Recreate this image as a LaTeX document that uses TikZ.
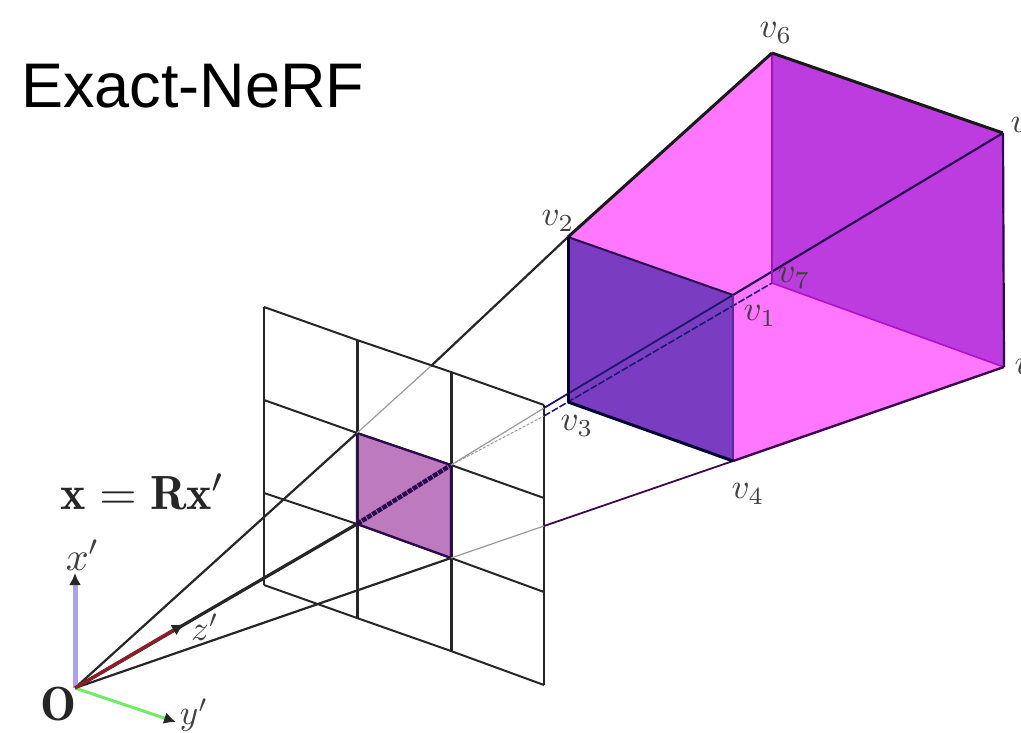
\documentclass[tikz,border=0pt]{standalone}
\usepackage{fontspec}
\setsansfont{Liberation Sans}
\usetikzlibrary{arrows.meta}
\definecolor{pinkface}{HTML}{FF77FF}
\definecolor{backface}{HTML}{BC3CE0}
\definecolor{frontface}{HTML}{7A3CC0}
\definecolor{pixelface}{HTML}{BE7ABE}
\definecolor{navy}{HTML}{1E1470}
\definecolor{darkedge}{HTML}{2A0A50}
\definecolor{xblue}{HTML}{AAA0F0}
\definecolor{ygreen}{HTML}{70EB64}
\definecolor{zred}{HTML}{8C1E28}
\definecolor{innerback}{HTML}{9A18B4}
\definecolor{innerfloor}{HTML}{B010C8}
\definecolor{frontright}{HTML}{5A2A90}
\definecolor{floorbottom}{HTML}{3A0A4A}
\tikzset{
  gridline/.style={draw=black!85,line width=2pt},
  gridmid/.style={draw=black!85,line width=3pt},
  ray/.style={draw=black!85,line width=2.2pt},
  paleray/.style={draw=black!40,line width=1.2pt},
  dashray/.style={draw=navy,line width=1.6pt,dash pattern=on 7pt off 2pt},
  paledash/.style={draw=black!40,line width=1pt,dash pattern=on 3pt off 1.5pt},
  edge/.style={line width=3pt,draw=black!90},
  axis/.style={-{Latex[length=12pt,width=12pt,color=black!85]}},
  mathlab/.style={scale=3.5,text=black!75,inner sep=0pt},
  boldlab/.style={scale=4.8,text=black!85,inner sep=0pt},
}
\begin{document}
\begin{tikzpicture}[x=1pt,y=-1pt]
\useasboundingbox (0,0) rectangle (1021,732);
% frustum corners
\coordinate (O) at (75,688);
\coordinate (v1) at (733,295);
\coordinate (v2) at (568,237);
\coordinate (v3) at (568,402);
\coordinate (v4) at (733,461);
\coordinate (v5) at (1003,133);
\coordinate (v6) at (772,53);
\coordinate (v7) at (772,283);
\coordinate (v8) at (1004,367);
% grid corners
\coordinate (g11) at (264,307); \coordinate (g12) at (357,340); \coordinate (g13) at (451,372); \coordinate (g14) at (544,405);
\coordinate (g21) at (264,400); \coordinate (g22) at (357,433); \coordinate (g23) at (451,465); \coordinate (g24) at (544,498);
\coordinate (g31) at (264,493); \coordinate (g32) at (357,524); \coordinate (g33) at (451,558); \coordinate (g34) at (544,592);
\coordinate (g41) at (264,585); \coordinate (g42) at (357,618); \coordinate (g43) at (451,651); \coordinate (g44) at (544,685);
% ray exits from the grid
\coordinate (e2) at (431,366);
\coordinate (e3) at (544,416);
\coordinate (e1) at (544,408);
\coordinate (e4) at (544,526);
% faces
\fill[backface] (v6)--(v5)--(v8)--(v7)--cycle;
\fill[pinkface] (v2)--(v6)--(v7)--(v1)--cycle;
\fill[pinkface] (v1)--(v7)--(v8)--(v4)--cycle;
\fill[frontface] (v2)--(v1)--(v4)--(v3)--cycle;
\fill[pixelface] (g22)--(g23)--(g33)--(g32)--cycle;
% grid
\draw[gridline] (g11)--(g12)--(g13)--(g14);
\draw[gridline] (g21)--(g22)--(g23)--(g24);
\draw[gridline] (g31)--(g32)--(g33)--(g34);
\draw[gridline] (g41)--(g42)--(g43)--(g44);
\draw[gridline] (g11)--(g41);
\draw[gridmid] (g12)--(g42);
\draw[gridmid] (g13)--(g43);
\draw[gridline] (g14)--(g44);
% pixel outline
\draw[line width=2.2pt,draw=darkedge] (g22)--(g23)--(g33)--(g32)--cycle;
% rays
\draw[ray] (O)--(g22);
\draw[paleray] (g22)--(e2);
\draw[ray] (e2)--(v2);
\draw[ray] (O)--(g33);
\draw[paleray] (g33)--(e4);
\draw[ray,line width=1.8pt,draw=floorbottom] (e4)--(v4);
\draw[ray,line width=3.2pt] (O)--(g32);
\draw[line width=4.5pt,draw=darkedge,dash pattern=on 5pt off 1pt] (g32)--(g23);
\draw[paleray] (g23)--(e1);
\draw[paledash] (g23)--(e3);
\draw[ray,line width=1.8pt,draw=navy] (e1)--(v1);
\draw[dashray] (e3)--(v7);
\draw[ray,draw=darkedge] (v1)--(v5);
% inner edges
\draw[line width=2pt,draw=innerback] (v6)--(v7);
\draw[line width=1.6pt,draw=innerfloor] (v7)--(v8);
\draw[line width=2pt,draw=darkedge] (v2)--(v1);
\draw[line width=2pt,draw=frontright] (v1)--(v4);
% outer edges
\draw[edge] (v2)--(v6);
\draw[edge] (v6)--(v5);
\draw[line width=2.2pt,draw=darkedge] (v5)--(v8);
\draw[line width=2.4pt,draw=floorbottom] (v8)--(v4);
\draw[line width=3pt,draw=black!80!blue] (v3)--(v4);
\draw[line width=3pt,draw=black!80!blue] (v2)--(v3);
% axes
\coordinate (xtip) at (75,573);
\coordinate (ytip) at (176,722);
\coordinate (ztip) at (184,624);
\draw[axis,draw=xblue,line width=5pt] (O)--(xtip);
\draw[axis,draw=ygreen,line width=3pt] (O)--(ytip);
\draw[axis,draw=zred,line width=3.5pt] (O)--(ztip);
% labels
\node[font=\sffamily,inner sep=0pt,anchor=base west] (title) at (21,107) {\fontsize{63}{63}\selectfont Exact-NeRF};
\node[mathlab] (lv6) at (776,33) {$v_6$};
\node[mathlab] (lv2) at (558,221) {$v_2$};
\node[mathlab] (lv1) at (760,316) {$v_1$};
\node[mathlab] (lv7) at (794,278) {$v_7$};
\node[mathlab] (lv3) at (577,426) {$v_3$};
\node[mathlab] (lv4) at (748,494) {$v_4$};
\node[mathlab,anchor=west] (lv5) at (1010,128) {$v_5$};
\node[mathlab,anchor=west] (lv8) at (1014,370) {$v_8$};
\node[boldlab] (eq) at (143,492) {$\mathbf{x}=\mathbf{R}\mathbf{x}'$};
\node[mathlab,scale=1.15] (lx) at (83,555) {$x'$};
\node[mathlab] (ly) at (194,715) {$y'$};
\node[mathlab] (lz) at (205,627) {$z'$};
\node[boldlab] (lO) at (58,704) {$\mathbf{O}$};
\end{tikzpicture}
\end{document}
